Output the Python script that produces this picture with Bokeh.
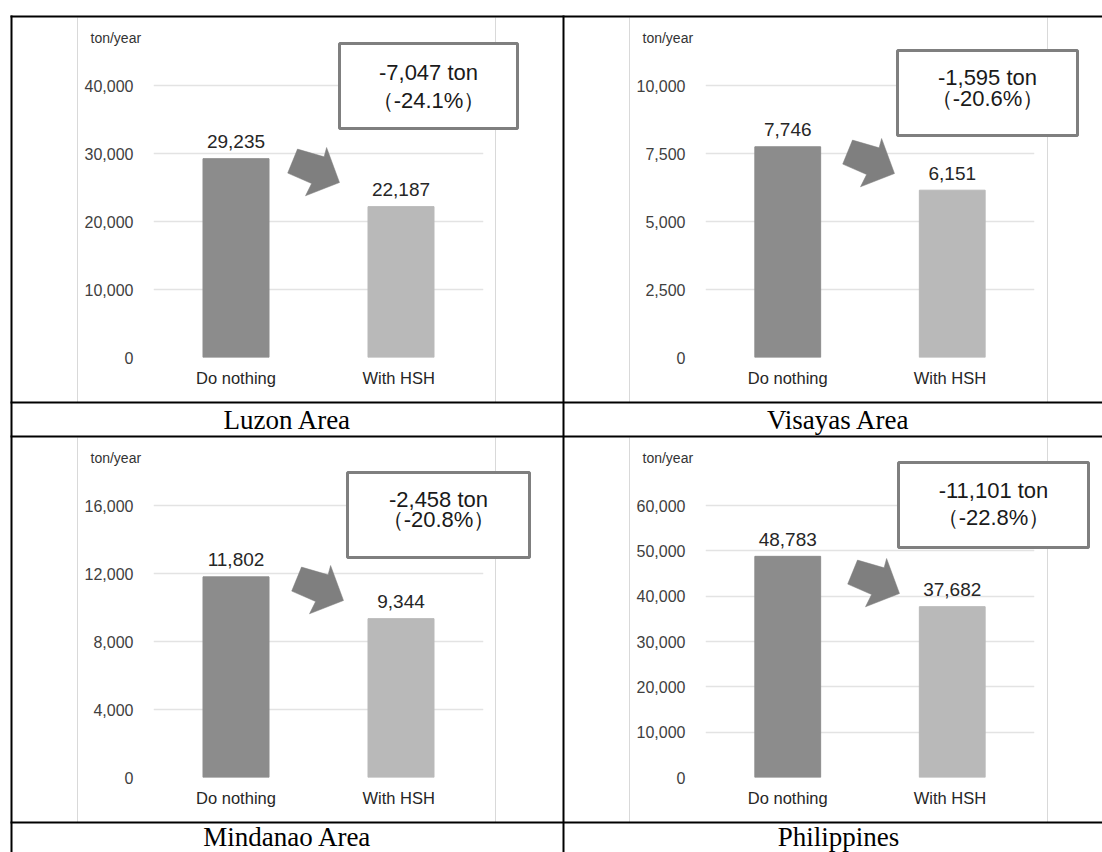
from bokeh.plotting import figure
from bokeh.models import (FactorRange, Range1d, FixedTicker, NumeralTickFormatter,
                          Spacer, GridBox)
from bokeh.layouts import row, column
from bokeh.core.properties import value
from bokeh.embed import file_html
from bokeh.resources import INLINE

# ---------------- data ----------------
areas = ["Luzon Area", "Visayas Area", "Mindanao Area", "Philippines"]
categories = ["Do nothing", "With  HSH"]
do_nothing = [29235, 7746, 11802, 48783]
with_hsh = [22187, 6151, 9344, 37682]
reduction_ton = [-7047, -1595, -2458, -11101]
reduction_pct = [-24.1, -20.6, -20.8, -22.8]
y_ticks = [
    [0, 10000, 20000, 30000, 40000],
    [0, 2500, 5000, 7500, 10000],
    [0, 4000, 8000, 12000, 16000],
    [0, 10000, 20000, 30000, 40000, 50000, 60000],
]
y_max = [50000, 12500, 20000, 75000]
unit_label = "ton/year"

# ---------------- style / layout ----------------
BAR_COLORS = ["#8c8c8c", "#b9b9b9"]
ARROW_COLOR = "#7f7f7f"
BOX_COLOR = "#7f7f7f"
GRID_COLOR = "#e3e3e3"
PANEL_EDGE = "#d9d9d9"
SANS = "Liberation Sans"
SERIF = "Liberation Serif"
PAGE_W, PAGE_H = 1102, 852

COL_W = [550, 538, 550, 538]
CHART_H = 384
BORDER_L = 141
FRAME_W = [330, 329, 330, 329]
FRAME_H = 340
BORDER_B = 44
# page position of each frame's left edge and zero line
ORIGIN = [(153, 357), (705, 357), (153, 777), (705, 777)]
# callout: left offset from frame left, width, top above zero line, text line offsets from box top
CALLOUT = [(186, 178, 314, 29, 57), (192, 180, 307, 27, 48),
           (194, 182, 305, 27, 47), (193, 190, 315, 28, 55)]
BOX_H = 85
ARROW_TIP = [(186, 175), (189, 184), (190, 177), (194, 184)]
ARROW_SHAPE = [(0, 0), (-12.9, -35), (-15.4, -25.7), (-42, -33.4),
               (-51.8, -9.4), (-27.9, 1), (-34, 13.3)]
CAPTION_X = [287, 838, 287, 838]
CAPTION_Y = [419, 419, 836, 836]
V_LINES = [10, 562]
H_LINES = [15, 401, 435, 821]


def chart(i):
    w = COL_W[i]
    fw = FRAME_W[i]
    ymax = y_max[i]
    p = figure(width=w, height=CHART_H, x_range=FactorRange(*categories, range_padding=0),
               y_range=Range1d(0, ymax), toolbar_location=None, output_backend="svg",
               min_border_left=BORDER_L, min_border_right=w - BORDER_L - fw,
               min_border_top=0, min_border_bottom=BORDER_B, outline_line_color=None,
               background_fill_color=None, border_fill_color=None)
    vals = [do_nothing[i], with_hsh[i]]
    p.vbar(x=categories, top=vals, width=0.4, color=BAR_COLORS)
    p.text(x=categories, y=vals, text=[f"{v:,}" for v in vals],
           text_font=value(SANS), text_font_size="19px", text_align="center",
           text_baseline="middle", y_offset=-17, text_color="#262626")

    p.xgrid.grid_line_color = None
    p.ygrid.grid_line_color = GRID_COLOR
    p.ygrid.grid_line_width = 1.5
    p.yaxis.ticker = FixedTicker(ticks=y_ticks[i])
    p.yaxis.formatter = NumeralTickFormatter(format="0,0")
    # keep the double space visible in SVG text
    p.xaxis.major_label_overrides = {c: c.replace("  ", "\u00a0 ") for c in categories}
    for ax in (p.xaxis[0], p.yaxis[0]):
        ax.axis_line_color = None
        ax.major_tick_line_color = None
        ax.minor_tick_line_color = None
        ax.major_tick_out = 0
        ax.major_label_text_font = SANS
    p.yaxis.major_label_text_font_size = "16px"
    p.xaxis.major_label_text_font_size = "16.5px"
    p.yaxis.major_label_standoff = 20
    p.yaxis.major_label_text_color = "#404040"
    p.xaxis.major_label_standoff = 11
    p.xaxis.major_label_text_color = "#262626"

    # block arrow: pixel shape converted through the plot's scales
    tx, ty = ARROW_TIP[i]
    xs, ys = [], []
    for dx, dy in ARROW_SHAPE:
        px = tx + dx           # px right of frame left
        py = ty - dy           # px above zero line
        xs.append(px / fw * len(categories))
        ys.append(py / FRAME_H * ymax)
    p.patch(xs, ys, fill_color=ARROW_COLOR, line_color=ARROW_COLOR, line_width=0.5)
    return p


charts = column(
    Spacer(width=PAGE_W, height=17),
    row(Spacer(width=12, height=CHART_H), chart(0), Spacer(width=2, height=CHART_H), chart(1)),
    Spacer(width=PAGE_W, height=36),
    row(Spacer(width=12, height=CHART_H), chart(2), Spacer(width=2, height=CHART_H), chart(3)),
    Spacer(width=PAGE_W, height=31),
)

# transparent overlay for the table frame, captions, unit labels and call-out boxes
ov = figure(width=PAGE_W, height=PAGE_H, x_range=Range1d(0, PAGE_W), y_range=Range1d(PAGE_H, 0),
            x_axis_type=None, y_axis_type=None, toolbar_location=None, output_backend="svg",
            min_border=0, outline_line_color=None, background_fill_color=None,
            border_fill_color=None)

# light chart-panel edges
for (fx, zy) in ORIGIN:
    ov.segment(x0=[fx - 76, fx + 342], y0=[zy - 340] * 2, x1=[fx - 76, fx + 342],
               y1=[zy + 45] * 2, line_color=PANEL_EDGE, line_width=1)

# table lines
ov.quad(left=V_LINES, right=[v + 2 for v in V_LINES], top=[H_LINES[0]] * 2,
        bottom=[PAGE_H] * 2, fill_color="black", line_color=None)
ov.quad(left=[V_LINES[0]] * 4, right=[PAGE_W] * 4, top=H_LINES,
        bottom=[h + 2 for h in H_LINES], fill_color="black", line_color=None)

# captions
ov.text(x=CAPTION_X, y=CAPTION_Y, text=areas, text_font=value(SERIF), text_font_size="27px",
        text_align="center", text_baseline="middle", text_color="black")

for i, (fx, zy) in enumerate(ORIGIN):
    off, bw, top_above, l1, l2 = CALLOUT[i]
    left = fx + off
    top = zy - top_above
    ov.quad(left=[left], right=[left + bw], top=[top], bottom=[top + BOX_H],
            fill_color="white", line_color=BOX_COLOR, line_width=3)
    cx = left + bw / 2
    ov.text(x=[cx, cx], y=[top + l1, top + l2],
            text=[f"{reduction_ton[i]:,} ton", f"（{reduction_pct[i]:.1f}%）"],
            text_font=value(SANS), text_font_size="22px", text_align="center",
            text_baseline="middle", text_color="#1a1a1a")
    ov.text(x=[fx - 63], y=[zy - 320], text=[unit_label], text_font=value(SANS),
            text_font_size="14px", text_align="left", text_baseline="middle",
            text_color="#333333")

page = GridBox(children=[(charts, 0, 0), (ov, 0, 0)])

open("out.html", "w").write(file_html(page, INLINE))
